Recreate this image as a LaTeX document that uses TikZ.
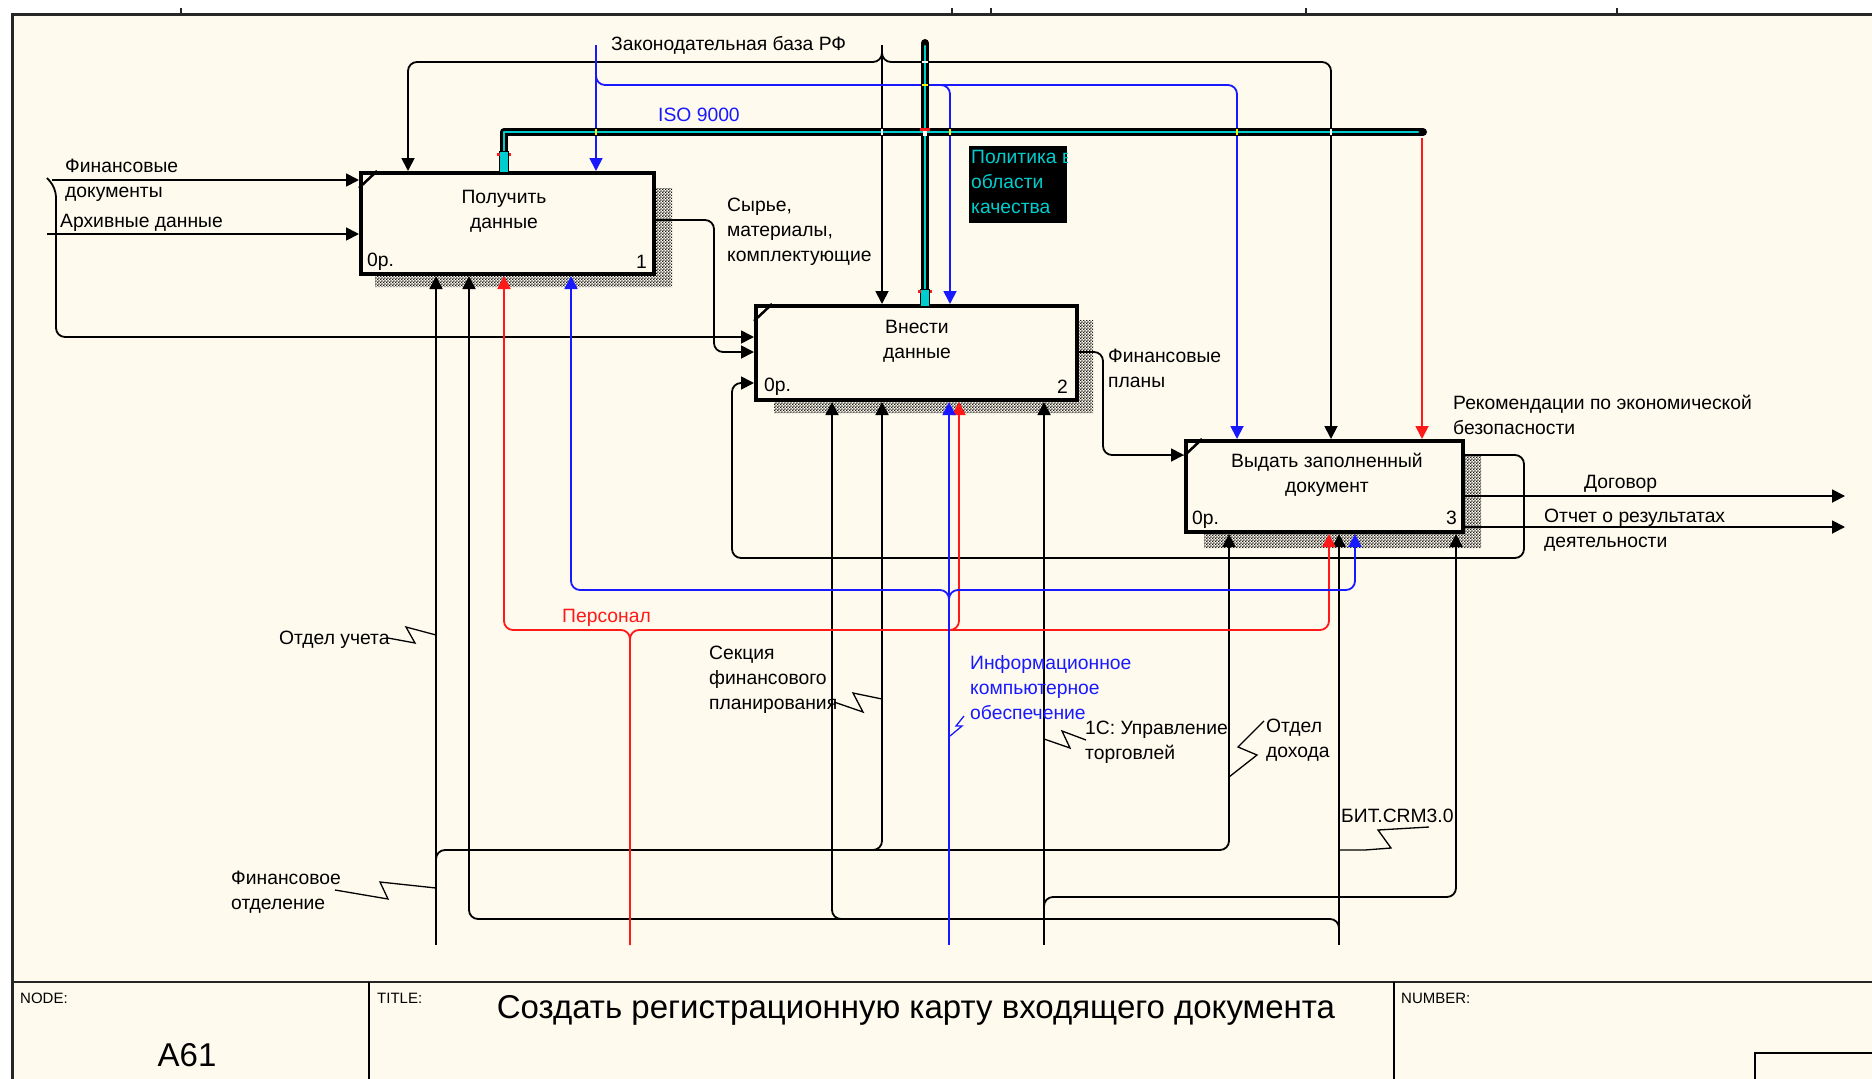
\documentclass[tikz,border=0pt]{standalone}
\usepackage{fontspec}
\setmainfont{Liberation Sans}
\usetikzlibrary{arrows.meta,patterns,calc}
\definecolor{paper}{RGB}{254,250,238}
\definecolor{idefred}{RGB}{255,25,25}
\definecolor{idefblue}{RGB}{25,25,255}
\definecolor{selcyan}{RGB}{0,205,205}
\newcommand\lblfont{\fontsize{19.3}{25}\selectfont}
\newcommand\bigfont{\fontsize{33}{38}\selectfont}
\newcommand\tinyfont{\fontsize{15}{18}\selectfont}
% fine checkerboard used for the activity shadows
\pgfdeclarepatternformonly{idefchecker}{\pgfqpoint{0pt}{0pt}}{\pgfqpoint{3.2pt}{3.2pt}}{\pgfqpoint{3.2pt}{3.2pt}}{%
  \pgfpathrectangle{\pgfqpoint{0pt}{0pt}}{\pgfqpoint{1.6pt}{1.6pt}}%
  \pgfpathrectangle{\pgfqpoint{1.6pt}{1.6pt}}{\pgfqpoint{1.6pt}{1.6pt}}%
  \pgfusepath{fill}}
\begin{document}
\begin{tikzpicture}[x=1pt,y=-1pt,
  box/.style={draw, line width=4pt, fill=paper, anchor=north west, inner sep=0pt},
  hatch/.style={pattern=idefchecker, pattern color=black!90},
  link/.style={line width=1.8pt, rounded corners=9pt},
  arr/.style={link, -{Triangle[length=13pt,width=13pt]}},
  zig/.style={line width=1.3pt},
  lbl/.style={font=\lblfont, inner sep=0pt, align=left, anchor=west},
  boxtext/.style={font=\lblfont, inner sep=0pt, align=center},
  selline/.style={line width=8pt, line cap=round, line join=round, black},
  selcore/.style={line width=2.5pt, line cap=round, line join=round, selcyan}
]
\useasboundingbox (0,0) rectangle (1872,1079);
% sheet and frame
\fill[white] (0,0) rectangle (1872,1079);
\fill[paper] (12,14) rectangle (1872,1079);
\draw[line width=3pt, black!85] (12,1079) -- (12,14) -- (1872,14);
\foreach \tx in {181,952,991,1306,1617} \draw[line width=2pt, black!85] (\tx,8) -- (\tx,14);

% activity shadows
\fill[hatch] (652,188) -- (672,188) -- (672,287) -- (375,287) -- (375,272) -- (652,272) -- cycle;
\fill[hatch] (1075,320) -- (1093,320) -- (1093,413) -- (774,413) -- (774,398) -- (1075,398) -- cycle;
\fill[hatch] (1461,455) -- (1481,455) -- (1481,548) -- (1204,548) -- (1204,530) -- (1461,530) -- cycle;

% activity boxes
\node[box, minimum width=293pt, minimum height=101pt] (b1) at (359,171) {};
\node[box, minimum width=321pt, minimum height=94pt] (b2) at (754,304) {};
\node[box, minimum width=277pt, minimum height=91pt] (b3) at (1184,439) {};
\foreach \b in {b1,b2,b3}
  \draw[line width=2.5pt] ($(\b.north west)+(18,0)$) -- ($(\b.north west)+(0,17)$);

\node[boxtext] (b1t) at (504,211) {Получить\\данные};
\node[boxtext] (b2t) at (917,341) {Внести\\данные};
\node[boxtext] (b3t) at (1327,475) {Выдать заполненный\\документ};
\node[lbl] (b1c) at (367,262) {0р.};
\node[lbl] (b2c) at (764,387) {0р.};
\node[lbl] (b3c) at (1192,520) {0р.};
\node[lbl, anchor=east] (b1n) at (647,262) {1};
\node[lbl, anchor=east] (b2n) at (1068,387) {2};
\node[lbl, anchor=east] (b3n) at (1457,518) {3};

% inputs and outputs
\coordinate (fdsrc) at (47,178);
\draw[arr] (52,180) -- (52,180 -| b1.west);
\draw[arr] (fdsrc) -- (56,188) -- (56,337) -- (56,337 -| b2.west);
\draw[arr] (47,234) -- (47,234 -| b1.west);
\draw[arr] (b1.east |- 0,220) -- (714,220) -- (714,352) -- (b2.west |- 0,352);
\draw[arr] (b2.east |- 0,352) -- (1103,352) -- (1103,455) -- (b3.west |- 0,455);
\draw[arr] (b3.east |- 0,455) -- (1524,455) -- (1524,558) -- (732,558) -- (732,383) -- (b2.west |- 0,383);
\coordinate (dogend) at (1845,496);
\coordinate (otchend) at (1845,527);
\draw[arr] (b3.east |- dogend) -- (dogend);
\draw[arr] (b3.east |- otchend) -- (otchend);

% controls
\draw[arr] (882,45) -- (882,0 |- b2.north);
\draw[arr] (882,50) -- (882,62) -- (408,62) -- (408,0 |- b1.north);
\draw[arr] (882,50) -- (882,62) -- (1331,62) -- (1331,0 |- b3.north);
\draw[arr, idefblue] (596,45) -- (596,0 |- b1.north);
\draw[arr, idefblue] (596,72) -- (596,85) -- (1237,85) -- (1237,0 |- b3.north);
\draw[arr, idefblue] (935,85) -- (950,85) -- (950,0 |- b2.north);
\draw[arr, idefred] (1422,138) -- (1422,0 |- b3.north);

% mechanisms
\draw[arr] (436,945) -- (436,0 |- b1.south);
\draw[arr] (436,870) -- (436,850) -- (1229,850) -- (1229,0 |- b3.south);
\draw[arr] (860,850) -- (882,850) -- (882,0 |- b2.south);
\draw[arr] (1339,945) -- (1339,0 |- b3.south);
\draw[arr] (1339,935) -- (1339,919) -- (469,919) -- (469,0 |- b1.south);
\draw[arr] (850,919) -- (832,919) -- (832,0 |- b2.south);
\draw[arr] (1044,945) -- (1044,0 |- b2.south);
\draw[arr] (1044,910) -- (1044,897) -- (1456,897) -- (1456,0 |- b3.south);
\draw[arr, idefred] (630,945) -- (630,630) -- (504,630) -- (504,0 |- b1.south);
\draw[arr, idefred] (630,640) -- (630,630) -- (1329,630) -- (1329,0 |- b3.south);
\draw[arr, idefred] (935,630) -- (959,630) -- (959,0 |- b2.south);
\draw[arr, idefblue] (949,945) -- (949,0 |- b2.south);
\draw[arr, idefblue] (949,600) -- (949,590) -- (571,590) -- (571,0 |- b1.south);
\draw[arr, idefblue] (949,600) -- (949,590) -- (1355,590) -- (1355,0 |- b3.south);

% highlighted control arrow (quality policy)
\draw[selline] (925,43) -- (925,302);
\draw[selline] (504,166) -- (504,132) -- (1423,132);
\draw[selcore] (925,46) -- (925,300);
\draw[selcore] (504,164) -- (504,132) -- (1418,132);
\foreach \cx in {596,950,1237} \fill[yellow] (\cx-1.2,129) rectangle (\cx+1.2,135);
\foreach \cx in {882,1331} \fill[white] (\cx-1.2,129) rectangle (\cx+1.2,135);
\fill[white] (922,61) rectangle (928,63.4);
\fill[yellow] (922,84) rectangle (928,86.4);
\fill[idefred] (920,128) rectangle (930,131);
\fill[white] (923,131) rectangle (927,136);
\filldraw[fill=selcyan, draw=black, line width=1pt] (499.5,151) rectangle (508.5,172);
\filldraw[fill=selcyan, draw=black, line width=1pt] (920.5,289) rectangle (929.5,306);
\foreach \ex/\ey in {504/153,925/290} {
  \fill[idefred] (\ex-7,\ey) rectangle (\ex-4.5,\ey+3);
  \fill[idefred] (\ex+4.5,\ey) rectangle (\ex+7,\ey+3);
}

% label squiggles
\draw[zig] (388,638) -- (415,643) -- (406,627) -- (436,635);
\draw[zig] (335,890) -- (388,899) -- (380,882) -- (436,888);
\draw[zig] (834,702) -- (863,712) -- (853,693) -- (882,699);
\draw[zig, idefblue] (964,716) -- (956,726) -- (962,726) -- (950,736);
\draw[zig] (1044,739) -- (1070,748) -- (1062,731) -- (1086,740);
\draw[zig] (1229,777) -- (1257,755) -- (1238,747) -- (1264,721);
\draw[zig] (1339,850) -- (1365,850) -- (1391,848) -- (1378,830) -- (1429,827);

% arrow labels
\node[lbl] (lzak) at (611,45) {Законодательная база РФ};
\node[lbl, text=idefblue] (liso) at (658,115) {ISO 9000};
\node[lbl] (lfd) at (65,180) {Финансовые\\документы};
\node[lbl] (larch) at (60,223) {Архивные данные};
\node[lbl] (lsyr) at (727,232) {Сырье,\\материалы,\\комплектующие};
\node[lbl] (lfp) at (1108,368) {Финансовые\\планы};
\node[lbl] (lrek) at (1453,415) {Рекомендации по экономической\\безопасности};
\node[lbl] (ldog) at (1584,484) {Договор};
\node[lbl] (lotch) at (1544,530) {Отчет о результатах\\деятельности};
\node[lbl, text=idefred] (lpers) at (562,618) {Персонал};
\node[lbl] (luch) at (279,640) {Отдел учета};
\node[lbl] (lsek) at (709,680) {Секция\\финансового\\планирования};
\node[lbl, text=idefblue] (linf) at (970,688) {Информационное\\компьютерное\\обеспечение};
\node[lbl] (l1c) at (1085,742) {1С: Управление\\торговлей};
\node[lbl] (ldoh) at (1266,740) {Отдел\\дохода};
\node[lbl] (lbit) at (1341,816) {БИТ.CRM3.0};
\node[lbl] (lfo) at (231,892) {Финансовое\\отделение};

% selected label: quality policy
\fill[black] (969,146) rectangle (1067,223);
\begin{scope}
  \clip (969,146) rectangle (1067,223);
  \node[lbl, anchor=north west, text=selcyan] (lpol) at (971,150) {Политика в\\области\\качества};
\end{scope}

% title block
\draw[line width=2.5pt, black!85] (12,982) -- (1872,982);
\draw[line width=2pt] (369,982) -- (369,1079);
\draw[line width=2pt] (1394,982) -- (1394,1079);
\node[font=\tinyfont, inner sep=0pt, anchor=west] (tnode) at (20,998) {NODE:};
\node[font=\tinyfont, inner sep=0pt, anchor=west] (ttitle) at (377,998) {TITLE:};
\node[font=\tinyfont, inner sep=0pt, anchor=west] (tnum) at (1401,998) {NUMBER:};
\node[font=\bigfont, inner sep=0pt] (tid) at (187,1055) {A61};
\node[font=\bigfont, inner sep=0pt] (tname) at (916,1010) {Создать регистрационную карту входящего документа};
\draw[line width=2pt] (1880,1053) -- (1755,1053) -- (1755,1085);
\end{tikzpicture}
\end{document}
